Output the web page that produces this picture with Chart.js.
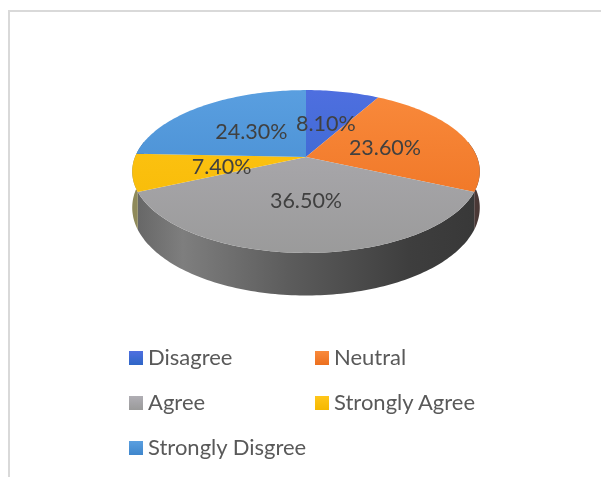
<!DOCTYPE html>
<html>
<head>
<meta charset="utf-8">
<style>
  html, body { margin: 0; padding: 0; background: #fff; }
  body { width: 601px; height: 477px; overflow: hidden; position: relative; font-family: Lato, sans-serif; }
  #frame { position: absolute; left: 8px; top: 10px; width: 593px; height: 467px; border-left: 2px solid #d9d9d9; border-top: 2px solid #d9d9d9; box-sizing: border-box; }
  #myPie { position: absolute; left: 0; top: 0; filter: blur(0.6px); }
  #legend { filter: blur(0.4px); }
  .legend-item { position: absolute; color: #595959; font-size: 22px; line-height: 24px; white-space: nowrap; }
  .legend-item i { position: absolute; left: -19px; top: 6px; width: 14px; height: 14px; }
</style>
</head>
<body>
<div id="frame"></div>
<canvas id="myPie" width="601" height="477"></canvas>
<div id="legend"></div>
<script src="https://cdn.jsdelivr.net/npm/chart.js@4/dist/chart.umd.min.js"></script>
<script>
const categories = ['Disagree', 'Neutral', 'Agree', 'Strongly Agree', 'Strongly Disgree'];
const values = [8.1, 23.6, 36.5, 7.4, 24.3];
const valueLabels = ['8.10%', '23.60%', '36.50%', '7.40%', '24.30%'];
const colorsTop = ['#4f6fe0', '#f98a3c', '#b0aeb4', '#ffc61a', '#5a9fe0'];
const colorsBottom = ['#2e66c6', '#ec6f1e', '#9a9a9a', '#f5b800', '#3f86cc'];
const wallColors = ['#2c4a80', '#4a3836', '#555555', '#8f8a5a', '#2c5f90'];

// pie tilt, the library only knows round pies
const tilt = 0.461;
const persp = 0.178;
const lift = 14;
const depth = 35;
const labelShift = [[0, 2], [0, 3], [0, 1], [1, 2], [1, 2]];

// angle and radius on the flat pie -> point on the tilted pie
function project(arc, angle, r, drop) {
  let u = Math.cos(angle) * r;
  let v = Math.sin(angle) * r;
  let d = 1 - persp * v;
  let R = arc.outerRadius;
  return {
    x: arc.x + R * u / d,
    y: arc.y - lift + R * tilt * v / d + (drop || 0) / d
  };
}

function rimPath(ctx, arc, a0, a1, drop, move) {
  let steps = Math.max(2, Math.ceil(Math.abs(a1 - a0) / 0.02));
  for (let i = 0; i <= steps; i++) {
    let p = project(arc, a0 + (a1 - a0) * i / steps, 1, drop);
    if (i === 0 && move) ctx.moveTo(p.x, p.y);
    else ctx.lineTo(p.x, p.y);
  }
}

const tiltedPie = {
  id: 'tiltedPie',
  beforeDatasetDraw(chart) {
    const ctx = chart.ctx;
    const arcs = chart.getDatasetMeta(0).data;
    const first = arcs[0];
    const left = first.x - first.outerRadius;
    const width = first.outerRadius * 2;

    // side wall, front half only
    arcs.forEach((arc, i) => {
      let a0 = Math.max(arc.startAngle, -0.2);
      let a1 = Math.min(arc.endAngle, Math.PI + 0.2);
      if (a1 <= a0) return;
      ctx.beginPath();
      rimPath(ctx, arc, a0, a1, 0, true);
      rimPath(ctx, arc, a1, a0, depth, false);
      ctx.closePath();
      if (i === 2) {
        let g = ctx.createLinearGradient(left, 0, left + width, 0);
        g.addColorStop(0, '#666666');
        g.addColorStop(0.14, '#7e7e7e');
        g.addColorStop(0.45, '#5c5c5c');
        g.addColorStop(0.8, '#3e3e3e');
        g.addColorStop(1, '#383838');
        ctx.fillStyle = g;
      } else {
        ctx.fillStyle = wallColors[i];
      }
      ctx.fill();
    });

    // top face
    arcs.forEach((arc, i) => {
      ctx.beginPath();
      let c = project(arc, 0, 0);
      ctx.moveTo(c.x, c.y);
      rimPath(ctx, arc, arc.startAngle, arc.endAngle, 0, false);
      ctx.closePath();
      let g = ctx.createLinearGradient(0, c.y - 70, 0, c.y + 100);
      g.addColorStop(0, colorsTop[i]);
      g.addColorStop(1, colorsBottom[i]);
      ctx.fillStyle = g;
      ctx.fill();
    });

    // labels
    ctx.fillStyle = '#404040';
    ctx.font = '21.5px Lato, sans-serif';
    ctx.textAlign = 'center';
    ctx.textBaseline = 'middle';
    arcs.forEach((arc, i) => {
      let p = project(arc, (arc.startAngle + arc.endAngle) / 2, 0.5);
      ctx.fillText(valueLabels[i], p.x + labelShift[i][0], p.y + labelShift[i][1]);
    });
    return false;
  }
};

new Chart(document.getElementById('myPie'), {
  type: 'pie',
  data: {
    labels: categories,
    datasets: [{
      data: values,
      backgroundColor: colorsBottom,
      borderWidth: 0
    }]
  },
  options: {
    responsive: false,
    animation: false,
    layout: { padding: { left: 135, right: 124, top: 0, bottom: 135 } },
    plugins: {
      legend: { display: false },
      tooltip: { enabled: false }
    }
  },
  plugins: [tiltedPie]
});

// legend, two columns
const legendBox = document.getElementById('legend');
const legendCols = [148, 334];
const legendRows = [345, 390, 435];
categories.forEach((name, i) => {
  let item = document.createElement('div');
  item.className = 'legend-item';
  item.style.left = legendCols[i % 2] + 'px';
  item.style.top = legendRows[Math.floor(i / 2)] + 'px';
  item.innerHTML = '<i style="background:linear-gradient(' + colorsTop[i] + ',' + colorsBottom[i] + ')"></i>' + name;
  legendBox.appendChild(item);
});
</script>
</body>
</html>
